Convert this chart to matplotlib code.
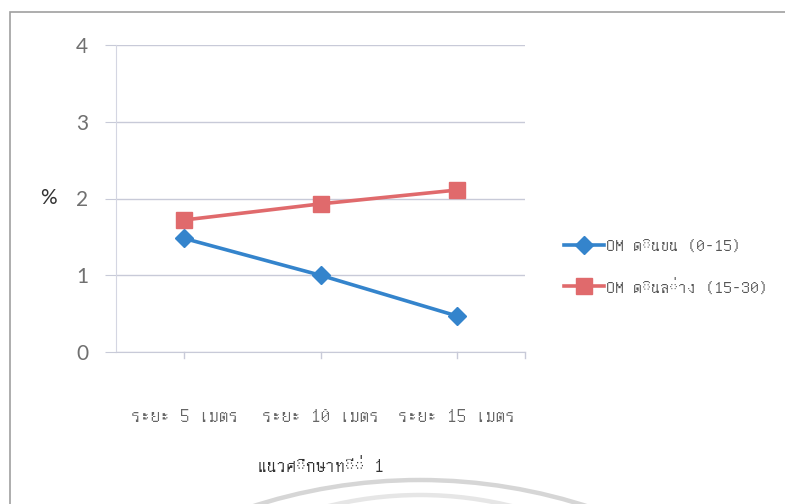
import matplotlib
matplotlib.use("Agg")
import matplotlib.pyplot as plt
from matplotlib import font_manager
from matplotlib.ft2font import FT2Font
from matplotlib.patches import Rectangle, Arc

categories = ["ระยะ 5 เมตร", "ระยะ 10 เมตร", "ระยะ 15 เมตร"]
om_top = [1.48, 1.0, 0.47]
om_bottom = [1.72, 1.93, 2.11]
series_labels = ["OM ดินบน (0-15)", "OM ดินล่าง (15-30)"]
y_ticks = [0, 1, 2, 3, 4]
x_title = "แนวศึกษาที่ 1"
y_title = "%"

W, H = 785, 504


def thai_families():
    """Installed families that carry Thai glyphs, proportional ones first"""
    found = []
    for path in font_manager.findSystemFonts():
        try:
            if 0x0E01 in FT2Font(path).get_charmap():
                name = font_manager.FontProperties(fname=path).get_name()
                if name not in found:
                    found.append(name)
        except Exception:
            continue
    found.sort(key=lambda n: "Mono" in n)
    return found


thai = thai_families() + ["DejaVu Sans"]
plt.rcParams["font.family"] = thai

fig = plt.figure(figsize=(W / 100, H / 100), dpi=100)
ax = fig.add_axes([116 / W, 1 - 352 / H, (525 - 116) / W, (352 - 45) / H])

x = list(range(len(categories)))
ax.plot(x, om_top, color="#3484cc", lw=2.6, marker="D", ms=9,
        label=series_labels[0], zorder=3)
ax.plot(x, om_bottom, color="#e06a6c", lw=2.6, marker="s", ms=12,
        label=series_labels[1], zorder=3)

ax.set_xlim(-0.5, 2.5)
ax.set_ylim(0, 4)
ax.set_yticks(y_ticks)
ax.set_yticklabels([str(t) for t in y_ticks])
ax.set_xticks(x)
ax.set_xticklabels(categories)
ax.tick_params(axis="y", length=8, color="#c8cad8", labelsize=15,
               labelcolor="#707070", pad=12, labelfontfamily="Lato")
ax.tick_params(axis="x", length=0, labelsize=14, labelcolor="#666666", pad=40)
for pos in [0, 1, 2, 2.5]:
    ax.plot([pos, pos], [0, -0.08], color="#c8cad8", lw=1, clip_on=False)

ax.grid(axis="y", color="#c8cad8", lw=1)
ax.set_axisbelow(True)
for side in ["top", "right"]:
    ax.spines[side].set_visible(False)
ax.spines["left"].set_color("#d4d6e2")
ax.spines["bottom"].set_color("#c8cad8")

ax.set_ylabel(y_title, rotation=0, fontsize=15, color="#333333", va="center",
              family="Lato")
ax.yaxis.set_label_coords(-0.165, 0.5)
ax.set_xlabel(x_title, fontsize=14, color="#333333", labelpad=24)

fig.legend(loc="upper left", bbox_to_anchor=(548 / W, 1 - 222 / H),
           frameon=False, fontsize=13, labelcolor="#555555",
           handlelength=2.2, handletextpad=0.1, labelspacing=1.35)

# page frame and the faint double arc at the foot of the scan
fig.patches.append(Rectangle((10 / W, -0.1), 1.2, 1 - 12 / H + 0.1,
                             transform=fig.transFigure, fill=False,
                             ec="#a0a0a0", lw=1.2))
for cx, top, radius, span, shade in [(420, 480, 545, (64, 116), "#d6d6d6"),
                                     (420, 495, 383, (70, 110), "#e6e6e6")]:
    fig.patches.append(Arc((cx / W, 1 - (top + radius) / H), 2 * radius / W,
                           2 * radius / H, theta1=span[0], theta2=span[1],
                           transform=fig.transFigure, ec=shade, lw=3.2))

fig.savefig("out.png", dpi=100)
